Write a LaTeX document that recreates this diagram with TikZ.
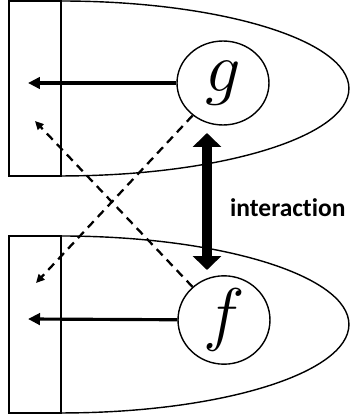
\RequirePackage{fix-cm}
\documentclass[tikz,border=0pt]{standalone}
\usepackage{fontspec}
\usepackage{tikz}
\usetikzlibrary{shapes.geometric, arrows.meta}
\newfontfamily\labelfont[Ligatures={NoCommon}]{Carlito}

\begin{document}
\begin{tikzpicture}[x=0.02cm, y=0.02cm,
  unit/.style={ellipse, draw, line width=0.8pt, minimum width=1.84cm,
               minimum height=1.68cm, inner sep=0pt,
               font=\fontsize{40}{44}\selectfont},
  outline/.style={line width=0.8pt},
  harr/.style={-{Triangle[length=0.24cm, width=0.23cm]}, line width=1.8pt},
  darr/.style={-{Triangle[length=0.17cm, width=0.16cm]}, line width=1.3pt,
               dash pattern=on 0.17cm off 0.12cm},
  iarr/.style={{Triangle[length=0.28cm, width=0.56cm]}-{Triangle[length=0.28cm, width=0.56cm]},
               line width=0.21cm}
]
\useasboundingbox (0,0) rectangle (350,417);

% ── upper unit ───────────────────────────────────────────────────────────
\draw[outline] (9,241) rectangle (61,416);
\draw[outline] (61,416) arc[start angle=90, end angle=-90, x radius=5.76cm, y radius=1.75cm];

% ── lower unit ───────────────────────────────────────────────────────────
\draw[outline] (9,4) rectangle (61,181);
\draw[outline] (61,181) arc[start angle=90, end angle=-90, x radius=5.76cm, y radius=1.77cm];

% ── nodes ────────────────────────────────────────────────────────────────
\node[unit] (g) at (223,334) {$g$};
\node[unit] (f) at (224,97)  {$f$};

\coordinate (gout)   at (28,334);
\coordinate (fout)   at (28,98);
\coordinate (gcross) at (36,134);
\coordinate (fcross) at (35,296);
\coordinate (itop)   at (207,284);
\coordinate (ibot)   at (207,147);

% ── arrows ───────────────────────────────────────────────────────────────
\draw[harr] (g) -- (gout);
\draw[harr] (f) -- (fout);
\draw[darr] (g) -- (gcross);
\draw[darr] (f) -- (fcross);

\draw[iarr] (itop) -- (ibot);
\node[anchor=west, font=\labelfont\bfseries\fontsize{14.5}{17}\selectfont] (lab) at (224,209) {interaction};

\end{tikzpicture}
\end{document}
